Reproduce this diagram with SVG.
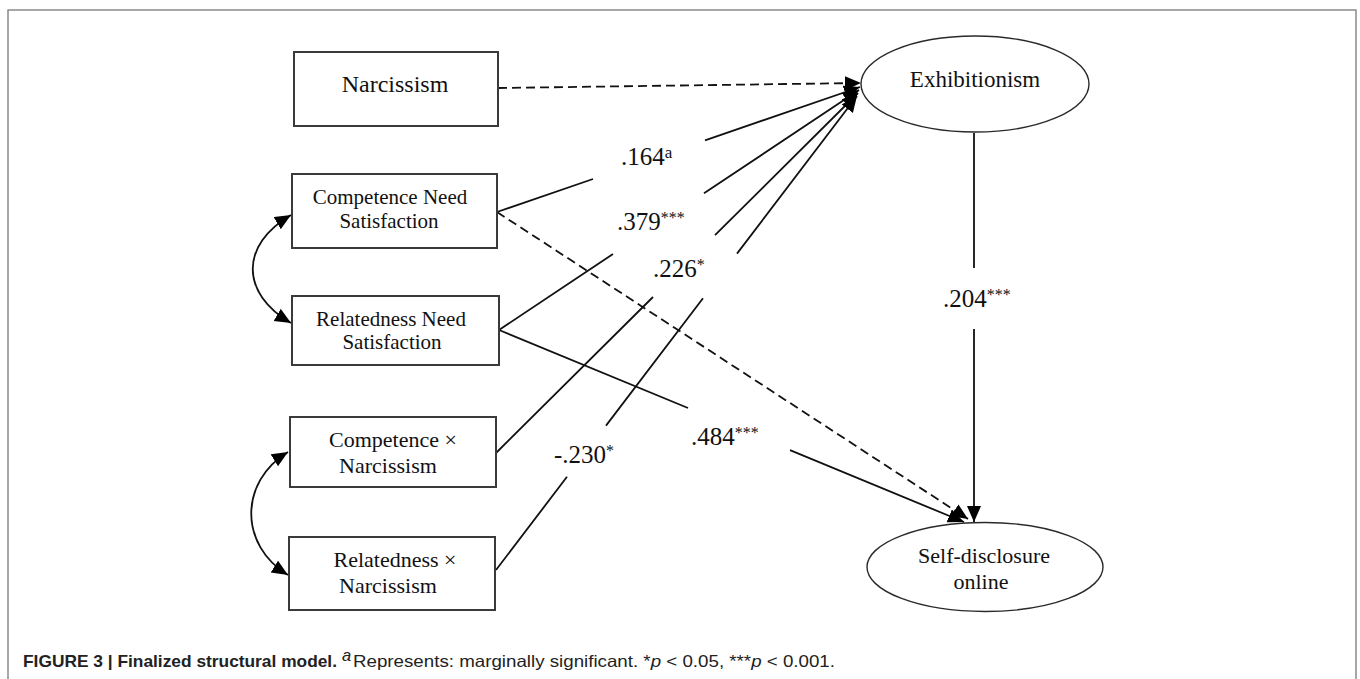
<svg xmlns="http://www.w3.org/2000/svg" width="1360" height="679" viewBox="0 0 1360 679">
<style>
.box{fill:#fff;stroke:#3a3a3a;stroke-width:2}
.ell{fill:#fff;stroke:#2a2a2a;stroke-width:1.4}
.t{font-family:"Liberation Serif","Times New Roman",serif;fill:#111;text-anchor:middle}
.lab{font-family:"Liberation Serif","Times New Roman",serif;fill:#111;font-size:25px}
.ln{fill:none;stroke:#111;stroke-width:1.8}
.dash{stroke-dasharray:9 5}
.cap{font-family:"Liberation Sans",Arial,sans-serif;fill:#222;font-size:16.5px}
</style>
<defs>
<marker id="ah" markerUnits="userSpaceOnUse" markerWidth="17" markerHeight="15" refX="16" refY="7" orient="auto-start-reverse" viewBox="0 0 17 15">
<path d="M0,0 L16,7 L0,14 z" fill="#000"/>
</marker>
</defs>
<rect x="0" y="0" width="1360" height="679" fill="#fff"/>
<rect x="8" y="10" width="1348" height="700" fill="none" stroke="#8a8a8a" stroke-width="1.5"/>

<g id="connectors">
<path class="ln dash" d="M498,88 L861,83" marker-end="url(#ah)"/>
<path class="ln" d="M497,212 L593,179 M705,140.4 L860,87" marker-end="url(#ah)"/>
<path class="ln" d="M499,330 L613,254 M704,193.3 L859,90" marker-end="url(#ah)"/>
<path class="ln" d="M496,453 L653,297 M715,235.2 L858,93" marker-end="url(#ah)"/>
<path class="ln" d="M496,570 L567,476.8 M606,425.6 L703,298.2 M737,253.6 L857,96" marker-end="url(#ah)"/>
<path class="ln dash" d="M497,212 L968,519" marker-end="url(#ah)"/>
<path class="ln" d="M499,330 L688,408 M790,450.2 L964,522" marker-end="url(#ah)"/>
<path class="ln" d="M974,133 L974,268 M974,329 L974,522" marker-end="url(#ah)"/>
<path class="ln" d="M291,215 C240,245 240,293 291,323" marker-start="url(#ah)" marker-end="url(#ah)"/>
<path class="ln" d="M288,452 C239,482 239,545 288,575" marker-start="url(#ah)" marker-end="url(#ah)"/>
</g>

<g id="labels">
<text class="lab" x="621" y="165">.164<tspan font-size="17" dy="-7">a</tspan></text>
<text class="lab" x="617" y="230">.379<tspan font-size="16" dy="-7">***</tspan></text>
<text class="lab" x="653" y="277">.226<tspan font-size="16" dy="-7">*</tspan></text>
<text class="lab" x="554" y="463">-.230<tspan font-size="16" dy="-7">*</tspan></text>
<text class="lab" x="691" y="445">.484<tspan font-size="16" dy="-7">***</tspan></text>
<text class="lab" x="943" y="307">.204<tspan font-size="16" dy="-7">***</tspan></text>
</g>

<g id="narcissism">
<rect class="box" x="294" y="52" width="204" height="74"/>
<text class="t" x="395" y="92" font-size="24">Narcissism</text>
</g>
<g id="competence-need">
<rect class="box" x="292" y="174" width="205" height="74"/>
<text class="t" x="390" y="204" font-size="21">Competence Need</text>
<text class="t" x="389" y="228" font-size="21">Satisfaction</text>
</g>
<g id="relatedness-need">
<rect class="box" x="292" y="296" width="207" height="69"/>
<text class="t" x="391" y="326" font-size="21">Relatedness Need</text>
<text class="t" x="392" y="349" font-size="21">Satisfaction</text>
</g>
<g id="competence-narcissism">
<rect class="box" x="290" y="417" width="206" height="70"/>
<text class="t" x="393" y="447" font-size="22">Competence ×</text>
<text class="t" x="388" y="473" font-size="22">Narcissism</text>
</g>
<g id="relatedness-narcissism">
<rect class="box" x="289" y="537" width="206" height="73"/>
<text class="t" x="395" y="567" font-size="22">Relatedness ×</text>
<text class="t" x="388" y="593" font-size="22">Narcissism</text>
</g>
<g id="exhibitionism">
<ellipse class="ell" cx="975" cy="84" rx="114" ry="48"/>
<text class="t" x="975" y="87" font-size="23">Exhibitionism</text>
</g>
<g id="self-disclosure">
<ellipse class="ell" cx="985" cy="567" rx="118" ry="44.5"/>
<text class="t" x="984" y="563" font-size="22">Self-disclosure</text>
<text class="t" x="981" y="589" font-size="22">online</text>
</g>

<g id="caption">
<text class="cap" x="23" y="667" font-weight="bold" textLength="314" lengthAdjust="spacingAndGlyphs">FIGURE 3 | Finalized structural model.</text>
<text class="cap" x="342" y="661" font-size="11" font-style="italic">a</text>
<text class="cap" x="353" y="667" textLength="482" lengthAdjust="spacingAndGlyphs">Represents: marginally significant. *<tspan font-style="italic">p</tspan> &lt; 0.05, ***<tspan font-style="italic">p</tspan> &lt; 0.001.</text>
</g>
</svg>
